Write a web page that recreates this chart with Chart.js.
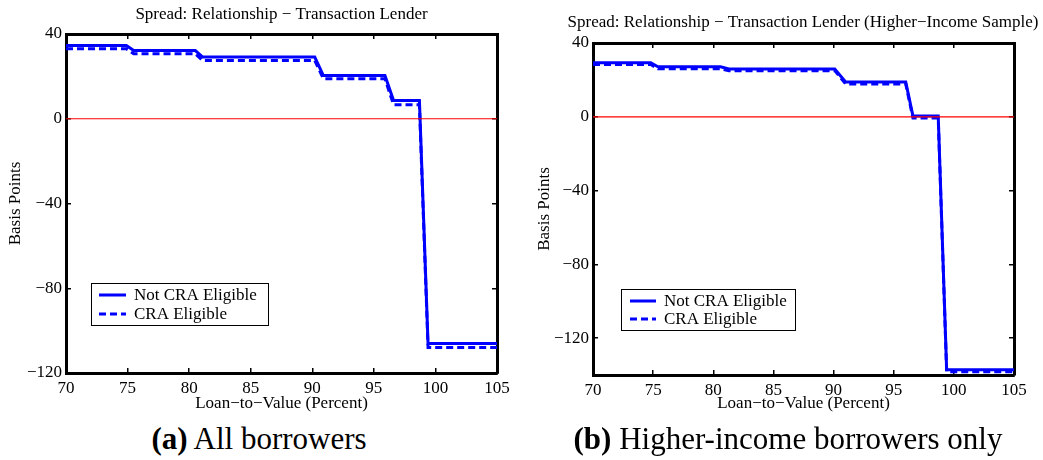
<!DOCTYPE html>
<html>
<head>
<meta charset="utf-8">
<script src="https://cdn.jsdelivr.net/npm/chart.js@4"></script>
<style>
  html, body { margin: 0; padding: 0; background: #fff; overflow: hidden; }
  #wrap { position: relative; width: 1043px; height: 460px; overflow: hidden; }
  canvas { position: absolute; top: 0; }
  .cap { position: absolute; top: 422px; font-family: 'Liberation Serif', serif; font-size: 31px; line-height: 34px; text-align: center; color: #000; white-space: nowrap; }
</style>
</head>
<body>
<div id="wrap">
  <canvas id="chartA" width="563" height="415" style="left:0"></canvas>
  <canvas id="chartB" width="546" height="415" style="left:530px"></canvas>
  <div class="cap" style="left:0;width:518px"><b>(a)</b> All borrowers</div>
  <div class="cap" style="left:540px;width:496px"><b>(b)</b> Higher-income borrowers only</div>
</div>
<script>
// Panel (a): all borrowers
const ltvA = [70, 74.9, 75.5, 80.5, 81.1, 90.2, 90.9, 95.9, 96.6, 98.7, 99.4, 105];
const notCraA = [34.6, 34.6, 32.2, 32.2, 29.1, 29.1, 20.4, 20.4, 8.6, 8.6, -106.1, -106.1];
const craA = [33.0, 33.0, 30.7, 30.7, 27.5, 27.5, 18.9, 18.9, 6.6, 6.6, -108, -108];

// Panel (b): higher-income sample
const ltvB = [70, 74.8, 75.4, 80.6, 81.3, 90.1, 91.0, 96.0, 96.6, 98.7, 99.4, 105];
const notCraB = [29.3, 29.3, 27.1, 27.1, 25.9, 25.9, 18.9, 18.9, 0.4, 0.4, -137.1, -137.1];
const craB = [28.4, 28.4, 26.0, 26.0, 25.0, 25.0, 17.8, 17.8, -0.7, -0.7, -138.2, -138.2];

// zero reference line
const zeroX = [70, 105];
const zeroY = [0, 0];

// tick labels
const xTicks = [70, 75, 80, 85, 90, 95, 100, 105];
const yTicksA = [40, 0, -40, -80, -120];
const yTicksB = [40, 0, -40, -80, -120];

const serif = "'Liberation Serif', 'Times New Roman', serif";
const minus = v => String(v).replace('-', '\u2212');
const pts = (xs, ys) => xs.map((x, i) => ({ x: x, y: ys[i] }));

// legend drawn in a box inside the plot
const boxLegend = {
    id: 'boxLegend',
    afterDatasetsDraw(chart, args, opts) {
        const ctx = chart.ctx;
        ctx.save();
        ctx.fillStyle = '#fff';
        ctx.fillRect(opts.x, opts.y, opts.w, opts.h);
        ctx.strokeStyle = '#000';
        ctx.lineWidth = 1;
        ctx.strokeRect(opts.x + 0.5, opts.y + 0.5, opts.w, opts.h);
        ctx.font = '17px ' + serif;
        ctx.textBaseline = 'middle';
        chart.data.datasets.filter(d => d.label).forEach((d, i) => {
            const y = opts.rows[i];
            ctx.strokeStyle = d.borderColor;
            ctx.lineWidth = d.borderWidth;
            ctx.setLineDash(d.borderDash || []);
            ctx.beginPath();
            ctx.moveTo(opts.lineX[0], y);
            ctx.lineTo(opts.lineX[1], y);
            ctx.stroke();
            ctx.setLineDash([]);
            ctx.fillStyle = '#000';
            ctx.fillText(d.label, opts.textX, y + 1);
        });
        ctx.restore();
    }
};

function makeChart(id, cfg) {
    const tickLine = { display: true, drawOnChartArea: false, drawTicks: true, tickLength: -5, color: '#000', lineWidth: 1.5 };
    const border = { display: true, color: '#000', width: 3 };
    const font17 = { family: serif, size: 17 };
    const setTicks = vals => scale => { scale.ticks = vals.map(v => ({ value: v })); };

    return new Chart(document.getElementById(id), {
        type: 'line',
        data: {
            datasets: [
                { label: '', data: pts(zeroX, zeroY), borderColor: '#ff0000', borderWidth: 1.2, pointRadius: 0 },
                { label: 'Not CRA Eligible', data: pts(cfg.ltv, cfg.notCra), borderColor: '#0000ff', borderWidth: 3, pointRadius: 0 },
                { label: 'CRA Eligible', data: pts(cfg.ltv, cfg.cra), borderColor: '#0000ff', borderWidth: 3, borderDash: [7, 4], pointRadius: 0 }
            ]
        },
        options: {
            responsive: false,
            animation: false,
            layout: { padding: 0 },
            plugins: {
                legend: { display: false },
                tooltip: { enabled: false },
                title: { display: true, text: cfg.title, color: '#000', font: { family: serif, size: 17, weight: 'normal' }, padding: { top: cfg.titlePad, bottom: 0 } },
                boxLegend: cfg.legend
            },
            scales: {
                x: {
                    type: 'linear', position: 'bottom', min: 70, max: 105,
                    afterBuildTicks: setTicks(xTicks),
                    afterFit: s => { s.height = cfg.bottom; },
                    grid: tickLine, border: border,
                    ticks: { font: font17, color: '#000', padding: 10.5, maxRotation: 0, autoSkip: false },
                    title: { display: true, text: 'Loan\u2212to\u2212Value (Percent)', color: '#000', font: font17, padding: { top: 0, bottom: 1.5 } }
                },
                x2: {
                    type: 'linear', position: 'top', min: 70, max: 105,
                    afterBuildTicks: setTicks(xTicks),
                    afterFit: s => { s.height = cfg.top; },
                    grid: tickLine, border: border,
                    ticks: { display: false }
                },
                y: {
                    type: 'linear', position: 'left', min: cfg.yMin, max: 40,
                    afterBuildTicks: setTicks(cfg.yTicks),
                    afterFit: s => { s.width = cfg.left; },
                    grid: tickLine, border: border,
                    ticks: { font: font17, color: '#000', padding: 9, callback: v => minus(v) },
                    title: { display: true, text: 'Basis Points', color: '#000', font: font17, padding: { top: cfg.yTitlePad, bottom: 0 } }
                },
                y2: {
                    type: 'linear', position: 'right', min: cfg.yMin, max: 40,
                    afterBuildTicks: setTicks(cfg.yTicks),
                    afterFit: s => { s.width = cfg.right; },
                    grid: tickLine, border: border,
                    ticks: { display: false }
                }
            }
        },
        plugins: [boxLegend]
    });
}

makeChart('chartA', {
    ltv: ltvA, notCra: notCraA, cra: craA, yTicks: yTicksA, yMin: -120,
    title: 'Spread: Relationship \u2212 Transaction Lender',
    top: 8.8, bottom: 42, left: 66, right: 66, titlePad: 4.8, yTitlePad: 5.8,
    legend: { x: 91, y: 283, w: 177, h: 42, lineX: [99, 126], textX: 134, rows: [295, 314] }
});

makeChart('chartB', {
    ltv: ltvB, notCra: notCraB, cra: craB, yTicks: yTicksB, yMin: -140,
    title: 'Spread: Relationship \u2212 Transaction Lender (Higher\u2212Income Sample)',
    top: 9.8, bottom: 40, left: 63, right: 62, titlePad: 12.8, yTitlePad: 4.8,
    legend: { x: 91, y: 289, w: 174, h: 41, lineX: [100, 126], textX: 134, rows: [301, 319] }
});
</script>
</body>
</html>
